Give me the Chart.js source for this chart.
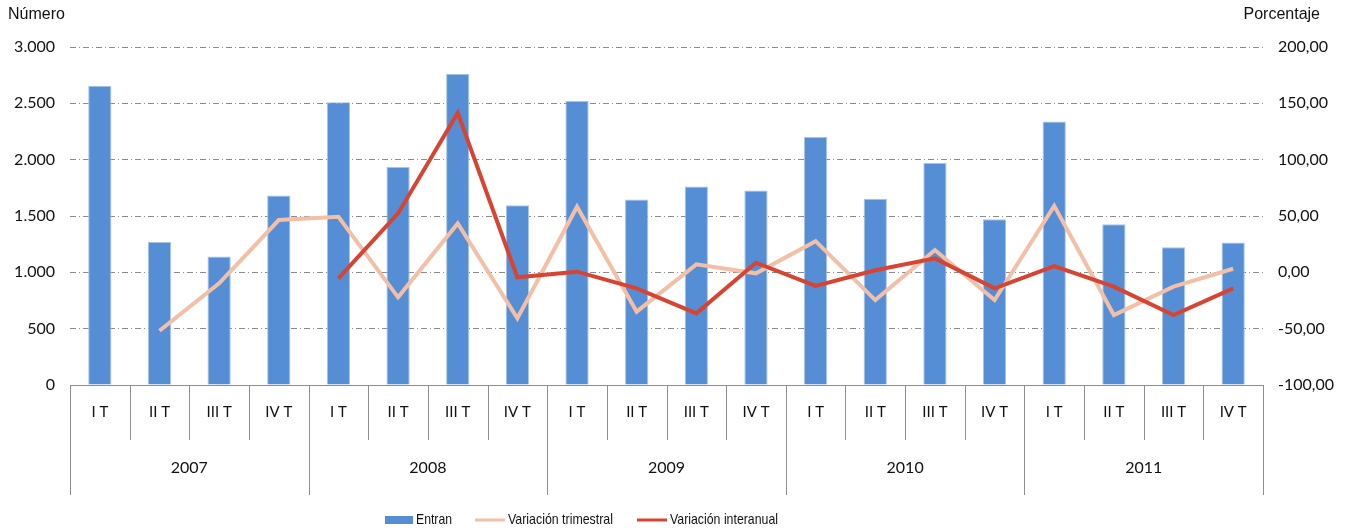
<!DOCTYPE html>
<html lang="es">
<head>
<meta charset="utf-8">
<title>Entran - variación trimestral e interanual</title>
<script src="https://cdn.jsdelivr.net/npm/chart.js@4/dist/chart.umd.min.js"></script>
<style>
    html, body { margin: 0; padding: 0; background: #fff; }
    #wrap { width: 1353px; height: 531px; position: relative; }
</style>
</head>
<body>
<div id="wrap"><canvas id="chart"></canvas></div>
<script>
// --- DATA ---

const years = ['2007', '2008', '2009', '2010', '2011'];
const quarters = ['I T', 'II T', 'III T', 'IV T'];

const entran = [2657, 1270, 1141, 1682, 2509, 1935, 2763, 1596, 2520, 1646, 1761, 1726, 2201, 1652, 1971, 1472, 2338, 1427, 1223, 1265];
const variacionTrimestral = [null, -51.8, -9.8, 46.4, 49.3, -22.2, 43.4, -40.8, 58.2, -34.9, 7.1, -0.9, 27.7, -24.6, 19.8, -24.6, 59.0, -37.9, -12.7, 3.2];
const variacionInteranual = [null, null, null, null, -5.3, 52.3, 141.5, -4.4, 0.6, -14.2, -36.4, 8.5, -12.1, 1.8, 12.4, -14.2, 5.6, -12.7, -37.9, -14.2];

const leftTicks = [0, 500, 1000, 1500, 2000, 2500, 3000];
const rightTicks = [-100, -50, 0, 50, 100, 150, 200];

// one label per bar: the quarter, the year goes on a second row
const labels = years.flatMap(y => quarters.map(q => [q, y]));

// --- STYLE ---

const BLUE = '#558ed5';
const PEACH = '#f3bfa6';
const RED = '#d84432';
const AXIS = '#8e8e8e';
const numFont = '"Lato", "Open Sans", sans-serif';
const textFont = '"Liberation Sans", Arial, sans-serif';

const fmtThousands = v => String(v).replace(/\B(?=(\d{3})+(?!\d))/g, '.');
const fmtPercent = v => v.toFixed(2).replace('.', ',');

// --- PLUGIN: two-level category axis, axis titles, legend ---

const decorations = {
    id: 'decorations',
    afterDraw(chart) {
        const ctx = chart.ctx;
        const x = chart.scales.x;
        const area = chart.chartArea;
        const n = labels.length;
        const step = x.getPixelForValue(1) - x.getPixelForValue(0);
        const bottom = area.bottom;
        const row1 = bottom + 55;
        const row2 = bottom + 110;

        ctx.save();

        // axis line
        ctx.strokeStyle = AXIS;
        ctx.lineWidth = 1;
        ctx.beginPath();
        ctx.moveTo(area.left, bottom + 0.5);
        ctx.lineTo(area.right, bottom + 0.5);
        ctx.stroke();

        // separators
        for (let i = 0; i <= n; i++) {
            const px = Math.round(x.getPixelForValue(i) - step / 2) + 0.5;
            const isYear = i % quarters.length === 0;
            ctx.beginPath();
            ctx.moveTo(px, bottom);
            ctx.lineTo(px, isYear ? row2 : row1);
            ctx.stroke();
        }

        // quarter + year labels
        ctx.fillStyle = '#111';
        ctx.textAlign = 'center';
        ctx.textBaseline = 'middle';
        ctx.font = '15px ' + numFont;
        labels.forEach((l, i) => {
            ctx.fillText(l[0], x.getPixelForValue(i), bottom + 27);
        });
        ctx.font = '16px ' + numFont;
        years.forEach((y, j) => {
            const first = x.getPixelForValue(j * quarters.length);
            const last = x.getPixelForValue((j + 1) * quarters.length - 1);
            ctx.fillText(y, (first + last) / 2, bottom + 83);
        });

        // axis titles
        ctx.font = '16px ' + textFont;
        ctx.textAlign = 'left';
        ctx.fillText('Número', 8, 15);
        ctx.textAlign = 'right';
        ctx.fillText('Porcentaje', 1320, 15);

        // legend (narrow type, so squeeze the text to the reference widths)
        const ly = 520;
        ctx.font = '15px ' + textFont;
        ctx.textAlign = 'left';
        ctx.fillStyle = BLUE;
        ctx.fillRect(385, ly - 4, 28, 8);
        ctx.fillStyle = '#111';
        ctx.fillText('Entran', 416, ly, 36);

        ctx.lineWidth = 3;
        ctx.strokeStyle = PEACH;
        ctx.beginPath();
        ctx.moveTo(475, ly);
        ctx.lineTo(505, ly);
        ctx.stroke();
        ctx.fillText('Variación trimestral', 508, ly, 105);

        ctx.strokeStyle = RED;
        ctx.beginPath();
        ctx.moveTo(637, ly);
        ctx.lineTo(667, ly);
        ctx.stroke();
        ctx.fillText('Variación interanual', 670, ly, 108);

        ctx.restore();
    }
};

// --- CHART ---

new Chart(document.getElementById('chart'), {
    type: 'bar',
    data: {
        labels: labels,
        datasets: [
            {
                label: 'Entran',
                data: entran,
                backgroundColor: BLUE,
                borderColor: '#a9c4e8',
                borderWidth: 1,
                barPercentage: 0.39,
                categoryPercentage: 1,
                yAxisID: 'y',
                order: 3
            },
            {
                type: 'line',
                label: 'Variación trimestral',
                data: variacionTrimestral,
                borderColor: PEACH,
                borderWidth: 4,
                pointRadius: 0,
                tension: 0,
                spanGaps: false,
                yAxisID: 'y1',
                order: 2
            },
            {
                type: 'line',
                label: 'Variación interanual',
                data: variacionInteranual,
                borderColor: RED,
                borderWidth: 4,
                pointRadius: 0,
                tension: 0,
                spanGaps: false,
                yAxisID: 'y1',
                order: 1
            }
        ]
    },
    options: {
        responsive: true,
        maintainAspectRatio: false,
        animation: false,
        layout: { padding: { top: 47, left: 0, right: 0, bottom: 0 } },
        plugins: {
            legend: { display: false },
            tooltip: { enabled: false }
        },
        scales: {
            x: {
                ticks: { display: false },
                grid: { display: false },
                border: { display: false },
                afterFit: s => { s.height = 146; }
            },
            y: {
                position: 'left',
                min: 0,
                max: 3000,
                afterBuildTicks: s => { s.ticks = leftTicks.map(v => ({ value: v })); },
                ticks: {
                    color: '#111',
                    font: { family: numFont, size: 16 },
                    padding: 15,
                    callback: v => fmtThousands(v)
                },
                grid: {
                    drawTicks: false,
                    lineWidth: 1,
                    color: c => c.tick && c.tick.value === 0 ? 'rgba(0,0,0,0)' : '#8c8c8c'
                },
                border: { display: false, dash: [6, 3, 1, 3] },
                afterFit: s => { s.width = 70; }
            },
            y1: {
                position: 'right',
                min: -100,
                max: 200,
                afterBuildTicks: s => { s.ticks = rightTicks.map(v => ({ value: v })); },
                ticks: {
                    color: '#111',
                    font: { family: numFont, size: 16 },
                    padding: 15,
                    callback: v => fmtPercent(v)
                },
                grid: { display: false, drawTicks: false },
                border: { display: false },
                afterFit: s => { s.width = 90; }
            }
        }
    },
    plugins: [decorations]
});
</script>
</body>
</html>
